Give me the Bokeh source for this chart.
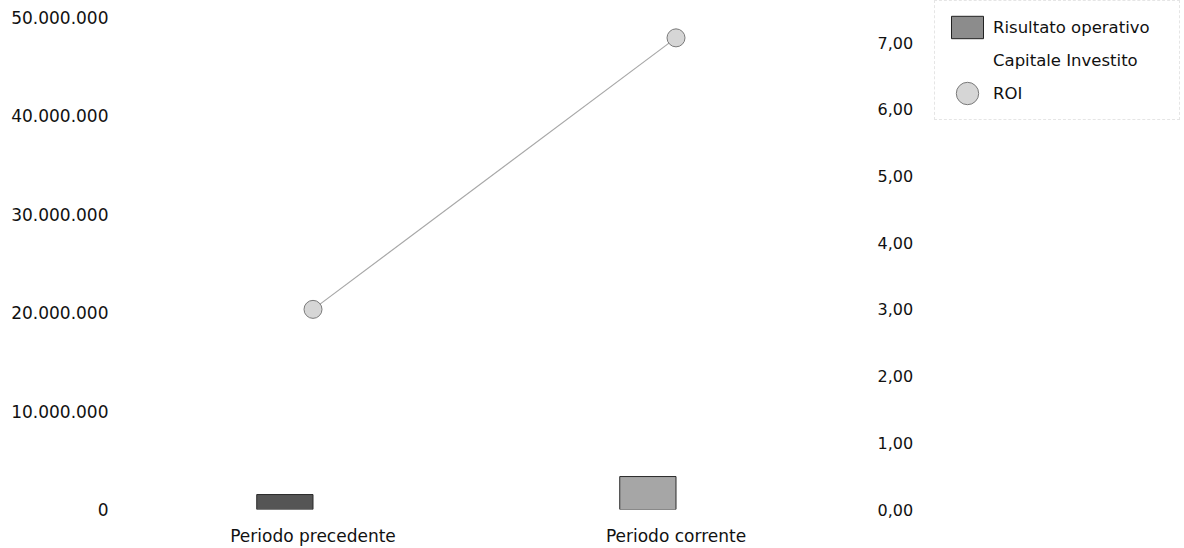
from bokeh.plotting import figure
from bokeh.layouts import row
from bokeh.models import (Range1d, LinearAxis, FixedTicker, CustomJSTickFormatter,
                          Legend, LegendItem, ColumnDataSource)
from bokeh.transform import dodge
from bokeh.embed import file_html
from bokeh.resources import INLINE

# --- data -------------------------------------------------------------
periods = ["Periodo precedente", "Periodo corrente"]
risultato_operativo = [1_520_000, 3_350_000]
capitale_investito = [50_700_000, 47_400_000]
roi = [3.00, 7.07]
bar_colors = ["#555555", "#a6a6a6"]

left_ticks = [0, 10_000_000, 20_000_000, 30_000_000, 40_000_000, 50_000_000]
right_ticks = [0, 1, 2, 3, 4, 5, 6, 7]

FONT = "DejaVu Sans"
TEXT = "#111111"
BAR_W = 0.155

# styles shared by the chart and its legend
RO_LEGEND = dict(fill_color="#8c8c8c", line_color="#222222")
CI_STYLE = dict(fill_color="white", line_color=None)
ROI_MARK = dict(fill_color="#d6d6d6", line_color="#7a7a7a", line_width=1)

xpos = list(range(len(periods)))
src = ColumnDataSource(dict(x=xpos, ro=risultato_operativo, ci=capitale_investito,
                            roi=roi, color=bar_colors))

p = figure(width=934, height=548, output_backend="svg", toolbar_location=None,
           x_range=Range1d(-0.5, 1.5), y_range=Range1d(0, 51_730_000),
           min_border_left=131, min_border_right=77, min_border_top=0,
           min_border_bottom=39)
p.extra_y_ranges = {"roi": Range1d(0, 7.63)}
p.outline_line_color = None
p.xgrid.visible = False
p.ygrid.visible = False

# invested capital: drawn white, only its ratio shows through the ROI line
p.vbar(x=dodge("x", BAR_W / 2), top="ci", width=BAR_W, source=src, **CI_STYLE)
p.vbar(x=dodge("x", -BAR_W / 2), top="ro", width=BAR_W, source=src,
       fill_color="color", line_color="#2a2a2a", line_width=1)
p.line("x", "roi", source=src, y_range_name="roi", line_color="#a8a8a8", line_width=1.2)
p.scatter("x", "roi", source=src, y_range_name="roi", size=18, **ROI_MARK)


def style_axis(ax, size):
    ax.axis_line_color = None
    ax.major_tick_line_color = None
    ax.minor_tick_line_color = None
    ax.major_label_text_font = FONT
    ax.major_label_text_font_size = size
    ax.major_label_text_color = TEXT


# x axis: period names
xa = p.xaxis[0]
xa.ticker = FixedTicker(ticks=xpos)
xa.major_label_overrides = {i: name for i, name in enumerate(periods)}
xa.major_label_standoff = 10
style_axis(xa, "17px")

# left axis: amounts
ya = p.yaxis[0]
ya.ticker = FixedTicker(ticks=left_ticks)
ya.formatter = CustomJSTickFormatter(
    code='return Math.round(tick).toString().replace(/\\B(?=(\\d{3})+(?!\\d))/g, ".");')
ya.major_label_standoff = 17
style_axis(ya, "17px")

# right axis: ROI
ra = LinearAxis(y_range_name="roi", ticker=FixedTicker(ticks=right_ticks))
ra.formatter = CustomJSTickFormatter(code='return tick.toFixed(2).replace(".", ",");')
ra.major_label_standoff = 14
style_axis(ra, "16px")
p.add_layout(ra, "right")

# --- legend panel -----------------------------------------------------
lg = figure(width=250, height=548, output_backend="svg", toolbar_location=None,
            x_axis_type=None, y_axis_type=None, x_range=Range1d(0, 1),
            y_range=Range1d(0, 1), min_border=0)
lg.outline_line_color = None
lg.xgrid.visible = False
lg.ygrid.visible = False
nan = float("nan")
r_ro = lg.vbar(x=[nan], top=[nan], width=0.1, **RO_LEGEND)
r_ci = lg.vbar(x=[nan], top=[nan], width=0.1, **CI_STYLE)
# round key for ROI, kept outside the visible range of the legend panel
r_roi = lg.ellipse(x=[5], y=[5], width=18, height=18, width_units="screen",
                   height_units="screen", **ROI_MARK)

legend = Legend(items=[
    LegendItem(label="Risultato operativo", renderers=[r_ro]),
    LegendItem(label="Capitale Investito", renderers=[r_ci]),
    LegendItem(label="ROI", renderers=[r_roi]),
], location="top_left", glyph_width=40, glyph_height=28, label_standoff=6,
    label_width=174, spacing=5, padding=12, margin=0,
    label_text_font=FONT, label_text_font_size="16.5px", label_text_color=TEXT,
    border_line_color="#cccccc", border_line_dash="1 4", border_line_width=1,
    background_fill_alpha=0)
lg.add_layout(legend, "center")

open("out.html", "w").write(file_html(row(p, lg, spacing=0), INLINE))
